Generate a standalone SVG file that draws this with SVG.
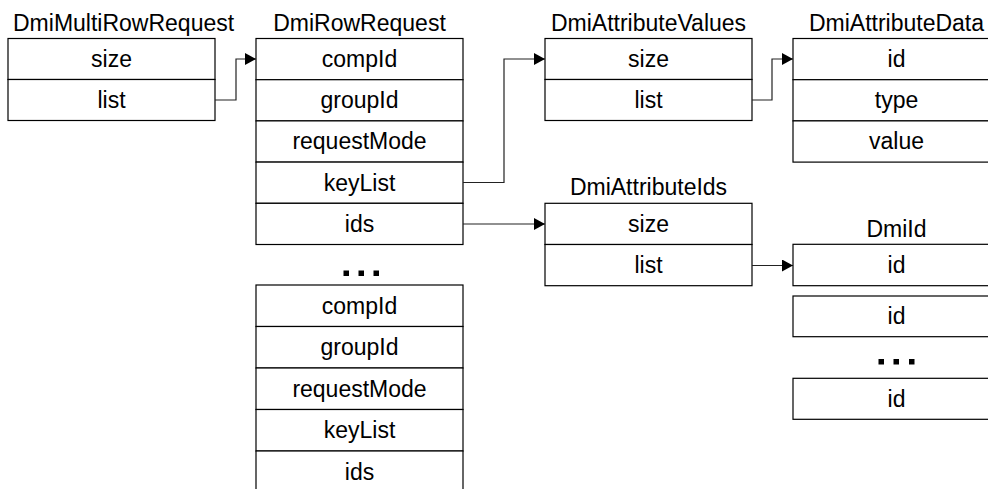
<svg xmlns="http://www.w3.org/2000/svg" width="988" height="489" viewBox="0 0 988 489">
<style>
.bx{fill:#fff;stroke:#000;stroke-width:1.2}
.t{font-family:"Liberation Sans",Arial,sans-serif;font-size:23px;fill:#000;text-anchor:middle}
.tl{font-family:"Liberation Sans",Arial,sans-serif;font-size:23px;fill:#000}
.c{fill:none;stroke:#222;stroke-width:1.2}
.d{fill:#000}
</style>
<defs>
<marker id="ah" markerUnits="userSpaceOnUse" markerWidth="12" markerHeight="12" refX="11" refY="6" orient="auto">
<path d="M0,0 L11,6 L0,12 Z" fill="#000"/>
</marker>
</defs>
<g id="DmiMultiRowRequest">
<text class="tl" x="13" y="31">DmiMultiRowRequest</text>
<rect class="bx" x="8" y="38.5" width="207" height="41"/>
<rect class="bx" x="8" y="79.5" width="207" height="41"/>
<text class="t" x="111.5" y="67">size</text>
<text class="t" x="111.5" y="108">list</text>
</g>
<g id="DmiRowRequest1">
<text class="t" x="359.5" y="31">DmiRowRequest</text>
<rect class="bx" x="256" y="38.5" width="207" height="41.2"/>
<rect class="bx" x="256" y="79.7" width="207" height="41.2"/>
<rect class="bx" x="256" y="120.9" width="207" height="41.2"/>
<rect class="bx" x="256" y="162.1" width="207" height="41.2"/>
<rect class="bx" x="256" y="203.3" width="207" height="41.2"/>
<text class="t" x="359.5" y="67">compId</text>
<text class="t" x="359.5" y="108.2">groupId</text>
<text class="t" x="359.5" y="149.4">requestMode</text>
<text class="t" x="359.5" y="190.6">keyList</text>
<text class="t" x="359.5" y="231.8">ids</text>
</g>
<g id="ellipsis1">
<rect class="d" x="343.5" y="270.5" width="5.5" height="5.5"/>
<rect class="d" x="358.5" y="270.5" width="5.5" height="5.5"/>
<rect class="d" x="373.5" y="270.5" width="5.5" height="5.5"/>
</g>
<g id="DmiRowRequest2">
<rect class="bx" x="256" y="285" width="207" height="41.5"/>
<rect class="bx" x="256" y="326.5" width="207" height="41.5"/>
<rect class="bx" x="256" y="368" width="207" height="41.5"/>
<rect class="bx" x="256" y="409.5" width="207" height="41.5"/>
<rect class="bx" x="256" y="451" width="207" height="41.5"/>
<text class="t" x="359.5" y="313.7">compId</text>
<text class="t" x="359.5" y="355.2">groupId</text>
<text class="t" x="359.5" y="396.7">requestMode</text>
<text class="t" x="359.5" y="438.2">keyList</text>
<text class="t" x="359.5" y="479.7">ids</text>
</g>
<g id="DmiAttributeValues">
<text class="t" x="648.5" y="31">DmiAttributeValues</text>
<rect class="bx" x="545" y="38.5" width="207" height="41"/>
<rect class="bx" x="545" y="79.5" width="207" height="41"/>
<text class="t" x="648.5" y="67">size</text>
<text class="t" x="648.5" y="108">list</text>
</g>
<g id="DmiAttributeData">
<text class="t" x="896.5" y="31">DmiAttributeData</text>
<rect class="bx" x="793" y="38.5" width="207" height="41.2"/>
<rect class="bx" x="793" y="79.7" width="207" height="41.2"/>
<rect class="bx" x="793" y="120.9" width="207" height="41.2"/>
<text class="t" x="896.5" y="67">id</text>
<text class="t" x="896.5" y="108.2">type</text>
<text class="t" x="896.5" y="149.4">value</text>
</g>
<g id="DmiAttributeIds">
<text class="t" x="648.5" y="195">DmiAttributeIds</text>
<rect class="bx" x="545" y="203.3" width="207" height="41.2"/>
<rect class="bx" x="545" y="244.5" width="207" height="41.2"/>
<text class="t" x="648.5" y="231.8">size</text>
<text class="t" x="648.5" y="273">list</text>
</g>
<g id="DmiId">
<text class="t" x="896.5" y="237">DmiId</text>
<rect class="bx" x="793" y="244.3" width="207" height="41.4"/>
<rect class="bx" x="793" y="296" width="207" height="40.7"/>
<rect class="bx" x="793" y="378.3" width="207" height="41"/>
<text class="t" x="896.5" y="273">id</text>
<text class="t" x="896.5" y="324.4">id</text>
<text class="t" x="896.5" y="406.8">id</text>
<rect class="d" x="878.5" y="359" width="5.5" height="5.5"/>
<rect class="d" x="893.5" y="359" width="5.5" height="5.5"/>
<rect class="d" x="909" y="359" width="5.5" height="5.5"/>
</g>
<g id="connectors">
<path class="c" d="M215,100 H236 V59 H256" marker-end="url(#ah)"/>
<path class="c" d="M463,182.5 H504 V59 H545" marker-end="url(#ah)"/>
<path class="c" d="M463,224 H545" marker-end="url(#ah)"/>
<path class="c" d="M752,100 H772 V59 H793" marker-end="url(#ah)"/>
<path class="c" d="M752,265.5 H793" marker-end="url(#ah)"/>
</g>
</svg>
